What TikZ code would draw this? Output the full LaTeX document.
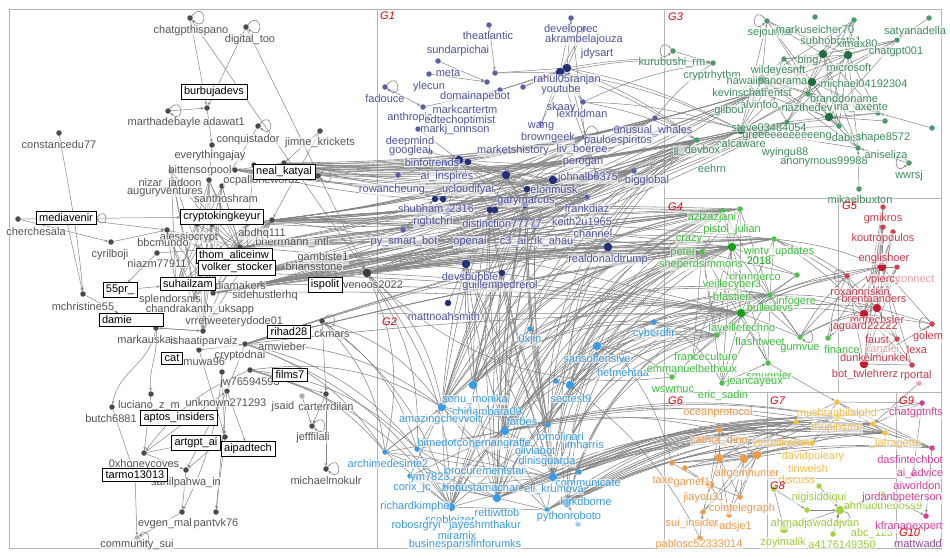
\documentclass[tikz,border=0pt]{standalone}
\usepackage{fontspec}
\setmainfont{Liberation Sans}
\usetikzlibrary{arrows.meta}
\definecolor{g0d}{HTML}{4A4A4A}\definecolor{g0t}{HTML}{555555}\definecolor{g0l}{HTML}{B0B0B0}
\definecolor{g1d}{HTML}{5A5FA8}\definecolor{g1b}{HTML}{22307A}\definecolor{g1t}{HTML}{4F549E}
\definecolor{g2d}{HTML}{3A9BE6}\definecolor{g2t}{HTML}{3A9BE0}\definecolor{g2l}{HTML}{9ACBF0}
\definecolor{g3d}{HTML}{4A9A6A}\definecolor{g3b}{HTML}{1F6E3E}\definecolor{g3t}{HTML}{3F8C5E}
\definecolor{g4d}{HTML}{4CC24C}\definecolor{g4b}{HTML}{15A015}\definecolor{g4t}{HTML}{3EBD3E}
\definecolor{g5d}{HTML}{D2404F}\definecolor{g5b}{HTML}{C41A2C}\definecolor{g5t}{HTML}{C93A4C}\definecolor{g5l}{HTML}{EBA0A8}
\definecolor{g6d}{HTML}{F09A48}\definecolor{g6t}{HTML}{EF9A4A}
\definecolor{g7d}{HTML}{F5C040}\definecolor{g7t}{HTML}{F2BF4A}
\definecolor{g8d}{HTML}{A4D33E}\definecolor{g8t}{HTML}{9CCB3C}
\definecolor{g9d}{HTML}{D83D96}\definecolor{g9t}{HTML}{D2409A}
\definecolor{g10t}{HTML}{8A4C98}
\definecolor{frm}{HTML}{B4B4B4}
\definecolor{edgec}{HTML}{858585}
\newcommand\lbf{\fontsize{11}{12}\selectfont}
\pgfdeclarelayer{bg}
\pgfsetlayers{bg,main}
\newcommand\DT[3]{\node[#1] (#2) at (#3) {};}
\newcommand\LB[4]{\node[#1] (#2) at (#3) {#4};}
\begin{document}
\begin{tikzpicture}[x=1pt,y=-1pt,
  dt/.style={circle,inner sep=0pt,minimum size=5.5pt},
  dtb/.style={circle,inner sep=0pt,minimum size=8.5pt},
  n0/.style={dt,fill=g0d}, n0b/.style={dtb,fill=g0d!80!black}, n0l/.style={dt,fill=g0l},
  n1/.style={dt,fill=g1d}, n1n/.style={dt,minimum size=6.5pt,fill=g1b}, n1b/.style={dtb,fill=g1b},
  n2/.style={dt,fill=g2d}, n2b/.style={dtb,fill=g2d}, n2l/.style={dt,fill=g2l},
  n3/.style={dt,fill=g3d}, n3b/.style={dtb,fill=g3b},
  n4/.style={dt,fill=g4d}, n4b/.style={dtb,fill=g4b},
  n5/.style={dt,fill=g5d}, n5b/.style={dtb,fill=g5b}, n5l/.style={dt,fill=g5l},
  n6/.style={dt,fill=g6d}, n6b/.style={dtb,fill=g6d},
  n7/.style={dt,fill=g7d}, n7b/.style={dtb,fill=g7d},
  n8/.style={dt,fill=g8d}, n8b/.style={dtb,fill=g8d},
  n9/.style={dt,fill=g9d},
  lbl/.style={font=\lbf,fill=white,fill opacity=0.55,text opacity=1,inner sep=0.4pt},
  t0/.style={lbl,text=g0t}, t1/.style={lbl,text=g1t}, t2/.style={lbl,text=g2t},
  t3/.style={lbl,text=g3t}, t4/.style={lbl,text=g4t}, t5/.style={lbl,text=g5t},
  t5l/.style={lbl,text=g5l}, t6/.style={lbl,text=g6t}, t7/.style={lbl,text=g7t},
  t8/.style={lbl,text=g8t}, t9/.style={lbl,text=g9t}, t10/.style={lbl,text=g10t},
  bx/.style={font=\lbf,draw=black,line width=0.6pt,fill=white,inner xsep=3pt,inner ysep=2.5pt,text=black},
  glab/.style={font=\fontsize{11}{12}\selectfont\itshape,text=red!90!black,anchor=west,inner sep=0pt},
  ed/.style={draw=edgec,line width=0.5pt},
  ea/.style={ed,-{Stealth[length=3.2pt,width=2.6pt]}},
  bund/.style={draw=edgec,line width=0.55pt},
  lp/.style={draw=edgec,line width=0.6pt,-{Stealth[length=3pt,width=2.6pt]}}
]
\useasboundingbox (0,0) rectangle (950,557);

% ---------------- G0 dots
\DT{n0}{a1}{190,18}\DT{n0}{a2}{246,27}\DT{n0}{a3}{168,111}\DT{n0}{a4}{207,108}
\DT{n0}{a5}{258,126}\DT{n0}{a6}{59,133}\DT{n0}{a7}{212,145}\DT{n0}{a8}{320,131}
\DT{n0}{a9}{254,165}\DT{n0}{a10}{284,163}\DT{n0}{a11}{18,219}\DT{n0}{a12}{111,242}
\DT{n0}{a13}{157,253}\DT{n0}{a14}{83,294}\DT{n0}{a15}{156,328}\DT{n0}{a16}{199,350}
\DT{n0b}{a17}{367,273}\DT{n0}{a18}{322,321}\DT{n0}{a19}{151,394}\DT{n0}{a20}{112,407}
\DT{n0}{a21}{225,437}\DT{n0}{a22}{144,453}\DT{n0}{a23}{186,470}\DT{n0}{a24}{182,512}
\DT{n0}{a25}{216,512}\DT{n0l}{a26}{137,538}\DT{n0}{a27}{326,394}\DT{n0}{a28}{312,426}
\DT{n0}{a29}{326,469}\DT{n0}{a30}{227,391}\DT{n0l}{a31}{302,396}\DT{n0}{a32}{318,176}
\DT{n0}{c1}{167,230}\DT{n0}{c2}{197,224}\DT{n0}{c3}{212,224}\DT{n0}{c4}{248,223}
\DT{n0}{c5}{272,220}\DT{n0}{c6}{240,247}\DT{n0}{c7}{247,273}\DT{n0}{c8}{261,284}
\DT{n0}{c9}{176,287}\DT{n0}{c10}{213,293}\DT{n0}{c11}{195,297}\DT{n0}{c12}{203,331}
\DT{n0}{c13}{245,344}\DT{n0}{c14}{250,370}\DT{n0}{c15}{222,372}\DT{n0}{c16}{171,171}
\DT{n0}{c17}{209,180}\DT{n0}{c18}{222,186}\DT{n0}{c19}{235,170}

% ---------------- G1 dots
\DT{n1}{b1}{489,25}\DT{n1}{b2}{438,61}\DT{n1}{b3}{571,18}\DT{n1}{b4}{584,29}
\DT{n1b}{b5}{567,68}\DT{n1}{b6}{429,74}\DT{n1}{b7}{385,87}\DT{n1}{b8}{495,73}
\DT{n1}{b9}{423,107}\DT{n1}{b10}{583,102}\DT{n1}{b11}{418,129}\DT{n1}{b12}{541,124}
\DT{n1}{b13}{430,152}\DT{n1}{b14}{655,118}\DT{n1}{b15}{585,137}\DT{n1}{b16}{398,175}
\DT{n1}{b17}{634,171}\DT{n1n}{b18}{525,205}\DT{n1n}{b19}{527,189}\DT{n1}{b20}{587,197}
\DT{n1}{b21}{403,230}\DT{n1b}{b22}{608,247}\DT{n1b}{b23}{466,264}\DT{n1n}{b24}{502,273}
\DT{n1n}{b25}{448,303}
\DT{n1}{gb1}{500,90}\DT{n1}{gb2}{523,87}\DT{n1b}{gb3}{560,72}\DT{n1}{gb4}{487,82}
\DT{n1b}{gb5}{506,175}\DT{n1b}{gb6}{553,180}\DT{n1}{gb7}{597,176}\DT{n1b}{gb8}{459,160}
\DT{n1n}{gb9}{468,162}\DT{n1}{gb10}{446,163}\DT{n1n}{gb11}{435,199}\DT{n1n}{gb12}{443,199}
\DT{n1}{gb13}{448,210}\DT{n1n}{gb14}{490,210}\DT{n1n}{gb15}{495,210}\DT{n1}{gb16}{535,227}
\DT{n1}{gb17}{617,128}

% ---------------- G2 dots
\DT{n2}{p1}{530,329}\DT{n2}{p2}{654,322}\DT{n2b}{p3}{597,346}\DT{n2}{p4}{623,360}
\DT{n2b}{p5}{570,385}\DT{n2b}{p6}{442,407}\DT{n2b}{p7}{505,431}\DT{n2}{p8}{385,452}
\DT{n2b}{p9}{451,507}\DT{n2b}{p10}{567,503}\DT{n2}{p11}{548,425}\DT{n2b}{p12}{553,477}
\DT{n2}{p13}{579,472}\DT{n2}{p14}{417,449}\DT{n2}{p15}{410,476}\DT{n2b}{p16}{497,498}
\DT{n2}{p17}{476,447}\DT{n2}{p18}{445,487}\DT{n2l}{p19}{578,524}\DT{n2}{p20}{556,381}
\DT{n2}{p21}{547,510}\DT{n2b}{p22}{473,385}

% ---------------- G3 dots
\DT{n3}{e1}{673,51}\DT{n3}{e2}{713,63}\DT{n3}{e3}{767,21}\DT{n3}{e4}{815,17}
\DT{n3}{e5}{854,20}\DT{n3}{e6}{929,18}\DT{n3}{e7}{897,40}\DT{n3b}{e8}{823,54}
\DT{n3b}{e9}{848,55}\DT{n3}{e10}{784,59}\DT{n3b}{e11}{762,79}\DT{n3b}{e12}{812,82}
\DT{n3}{e13}{756,92}\DT{n3}{e14}{808,94}\DT{n3b}{e15}{829,117}\DT{n3b}{e16}{741,130}
\DT{n3}{e17}{787,122}\DT{n3}{e18}{839,126}\DT{n3}{e19}{878,113}\DT{n3}{e20}{932,128}
\DT{n3}{e21}{909,163}\DT{n3}{e22}{858,148}\DT{n3}{e23}{885,121}\DT{n3}{e24}{859,189}
\DT{n3}{e25}{697,140}

% ---------------- G4 dots
\DT{n4b}{f1}{732,247}\DT{n4}{f2}{702,252}\DT{n4}{f3}{723,211}\DT{n4}{f4}{740,209}
\DT{n4}{f5}{774,239}\DT{n4}{f6}{797,275}\DT{n4}{f7}{770,295}\DT{n4b}{f8}{741,313}
\DT{n4}{f9}{800,337}\DT{n4}{f10}{828,338}\DT{n4}{f11}{768,363}\DT{n4}{f12}{717,335}
\DT{n4}{f13}{672,377}\DT{n4}{f14}{722,383}\DT{n4}{f15}{693,357}

% ---------------- G5 dots
\DT{n5}{g1}{883,207}\DT{n5}{g2}{893,232}\DT{n5}{g3}{883,227}\DT{n5b}{g4}{882,267}
\DT{n5}{g5}{897,267}\DT{n5}{g6}{847,276}\DT{n5b}{g7}{864,314}\DT{n5b}{g8}{877,308}
\DT{n5}{g9}{932,324}\DT{n5}{g10}{897,339}\DT{n5b}{g11}{864,364}\DT{n5}{g12}{912,365}
\DT{n5l}{g13}{919,383}

% ---------------- G6-G9 dots
\DT{n6b}{h1}{719,458}\DT{n6b}{h2}{744,459}\DT{n6b}{h3}{757,455}\DT{n6}{h4}{672,463}
\DT{n6}{h5}{685,468}\DT{n6b}{h6}{710,485}\DT{n6}{h7}{703,512}\DT{n6}{h8}{700,538}
\DT{n6}{h9}{719,430}\DT{n6}{h10}{740,497}\DT{n6}{h11}{729,515}
\DT{n7}{i1}{837,402}\DT{n7}{i2}{796,422}\DT{n7}{i3}{873,424}\DT{n7b}{i4}{837,417}
\DT{n7}{i5}{885,433}\DT{n7}{i6}{812,443}
\DT{n8}{j1}{819,486}\DT{n8}{j2}{774,489}\DT{n8}{j3}{807,510}\DT{n8b}{j4}{840,510}
\DT{n8b}{j5}{784,529}\DT{n8}{j6}{833,534}\DT{n8}{j7}{883,494}
\DT{n9}{k1}{922,403}\DT{n9}{k2}{932,448}\DT{n9}{k3}{913,474}\DT{n9}{k4}{926,516}

% ---------------- labels G0
\LB{t0}{La1}{191,31}{chatgpthispano}\LB{t0}{La2}{250,40}{digital\_too}
\LB{t0}{La3}{164,123}{marthadebayle}\LB{t0}{La4}{224,122}{adawat1}
\LB{t0}{La6}{59,145}{constancedu77}\LB{t0}{La7}{248,140}{conquistador}
\LB{t0}{La7b}{210,156}{everythingajay}\LB{t0}{La8}{320,143}{jimne\_krickets}
\LB{t0}{Lc16}{200,171}{bittensorpool}\LB{t0}{Lc17}{170,184}{nizar\_jadoon}
\LB{t0}{Lc18}{262,181}{ocpalloneword2}\LB{t0}{Lc19}{165,192}{auguryventures}
\LB{t0}{Lc20}{226,199}{santhoshram}\LB{t0}{La11}{36,232}{cherchesala}
\LB{t0}{Lc1}{189,238}{alessiocrypt}\LB{t0}{Lc2}{163,243}{bbcmundo}
\LB{t0}{La12}{110,255}{cyrilboji}\LB{t0}{La13}{157,264}{niazm77911}
\LB{t0}{Lc5}{323,258}{gambiste1}\LB{t0}{Lc4}{292,243}{bherrmann\_intl}
\LB{t0}{Lc3}{262,234}{abdhq111}\LB{t0}{Lbr}{314,267}{briansstone}
\LB{t0}{Lven}{373,285}{venoos2022}\LB{t0}{Lc8}{238,286}{lidiamakers}
\LB{t0}{Lc10}{265,296}{sidehustlerhq}\LB{t0}{Lc9}{170,300}{splendorsnis}
\LB{t0}{La14}{83,307}{mchristine55}\LB{t0}{Lc11}{200,310}{chandrakanth\_uksapp}
\LB{t0}{Lc12}{213,321}{vrretweeter}\LB{t0}{Lyd}{262,322}{ydode01}
\LB{t0}{La18}{332,334}{ckmars}\LB{t0}{La15}{147,340}{markauskas}
\LB{t0}{La16}{204,342}{ishaatiparvaiz}\LB{t0}{Lam}{282,347}{amwieber}
\LB{t0}{Lc13}{240,356}{cryptodnai}\LB{t0}{Ldim}{200,362}{dimuwa96}
\LB{t0}{La30}{250,383}{jw76594593}\LB{t0}{Lunk}{226,403}{unknown271293}
\LB{t0}{La31}{283,407}{jsaid}\LB{t0}{La27}{326,407}{carterrdilan}
\LB{t0}{La19}{149,406}{luciano\_z\_m}\LB{t0}{La20}{111,419}{butch6881}
\LB{t0}{La28}{313,438}{jefffilali}\LB{t0}{La22}{144,465}{0xhoneycoves}
\LB{t0}{La29}{326,481}{michaelmokulr}\LB{t0}{La23}{186,483}{sahilpahwa\_in}
\LB{t0}{La24}{165,524}{evgen\_mal}\LB{t0}{La25}{216,524}{pantvk76}
\LB{t0}{La26}{137,545}{community\_sui}

% ---------------- labels G1
\LB{t1}{Lb1}{488,36}{theatlantic}\LB{t1}{Lb2}{458,51}{sundarpichai}
\LB{t1}{Lb3}{571,30}{developrec}\LB{t1}{Lb4}{584,40}{akrambelajouza}
\LB{t1}{Lb4b}{597,54}{jdysart}\LB{t1}{Lb6}{448,73}{meta}
\LB{t1}{Lb6b}{429,87}{ylecun}\LB{t1}{Lb5}{567,80}{rahul05ranjan}
\LB{t1}{Lb7}{385,99}{fadouce}\LB{t1}{Lyt}{561,90}{youtube}
\LB{t1}{Ldom}{475,97}{domainapebot}\LB{t1}{Lb9}{465,110}{markcartertm}
\LB{t1}{Lsk}{561,108}{skaay}\LB{t1}{Lb10}{582,114}{lexfridman}
\LB{t1}{Lant}{410,118}{anthropic}\LB{t1}{Ledt}{460,121}{edtechoptimist}
\LB{t1}{Lb12}{541,127}{wang}\LB{t1}{Lb11}{455,130}{markj\_onnson}
\LB{t1}{Lbg}{548,138}{browngeek}\LB{t1}{Lb14}{653,131}{unusual\_whales}
\LB{t1}{Ldm}{410,142}{deepmind}\LB{t1}{Lb15}{618,141}{pauloespiritos}
\LB{t1}{Lmh}{513,151}{marketshistory}\LB{t1}{Lb13}{410,151}{googleai}
\LB{t1}{Llb}{582,150}{liv\_boeree}\LB{t1}{Lbi}{432,163}{binfotrends}
\LB{t1}{Lper}{583,163}{perogan}\LB{t1}{Lb16}{447,177}{ai\_inspires}
\LB{t1}{Ljo}{588,178}{johnalb6375}\LB{t1}{Lb17}{647,181}{bigglobal}
\LB{t1}{Lrow}{392,190}{rowancheung}\LB{t1}{Luc}{468,190}{ucloudifyai}
\LB{t1}{Lb19}{554,190}{elonmusk}\LB{t1}{Lb18}{526,202}{garymarcus}
\LB{t1}{Lb20}{587,209}{frankdiaz}\LB{t1}{Lsh}{436,210}{shubham\_2316}
\LB{t1}{Ldis}{502,224}{distinction77777}\LB{t1}{Lrc}{433,222}{rightchri}
\LB{t1}{Lke}{582,222}{keith2u1965}\LB{t1}{Lch}{593,234}{channel}
\LB{t1}{Lb21}{404,242}{py\_smart\_bot}\LB{t1}{Lop}{470,242}{openai}
\LB{t1}{Lc3ai}{513,242}{c3\_ai}\LB{t1}{Lik}{554,242}{ik\_ahau}
\LB{t1}{Lb22}{608,260}{realdonaldtrump}\LB{t1}{Lb23}{470,277}{devsbubble}
\LB{t1}{Lb24}{500,286}{guillempedrerol}\LB{t1}{Lb25}{444,317}{mattnoahsmith}

% ---------------- labels G2
\LB{t2}{Lp1}{530,340}{0xjin}\LB{t2}{Lp2}{654,334}{cyberdfir}
\LB{t2}{Lp3}{597,359}{sansoffensive}\LB{t2}{Lp4}{623,373}{hetmehtaa}
\LB{t2}{Lp5}{571,399}{sectest9}\LB{t2}{Lp6}{475,400}{sonu\_monika}
\LB{t2}{Lchi}{487,412}{chidambara09}\LB{t2}{Lama}{440,420}{amazingchevvolt}
\LB{t2}{Lp7}{522,422}{forbes}\LB{t2}{Ltom}{560,437}{tomolinari}
\LB{t2}{Lbim}{443,443}{bimedotco}\LB{t2}{Lher}{500,444}{hernangraffe}
\LB{t2}{Ljim}{583,446}{jimharris}\LB{t2}{Loli}{535,451}{oliviabot}
\LB{t2}{Ldin}{547,462}{dinisguarda}\LB{t2}{Lp8}{388,464}{archimedesinte2}
\LB{t2}{Lpro}{485,472}{procurementstar}\LB{t2}{Lym}{430,478}{ym7823}
\LB{t2}{Lcom}{588,483}{communicate}\LB{t2}{Lcor}{412,488}{corix\_jc}
\LB{t2}{Lzio}{480,488}{ziobustamachar}\LB{t2}{Leli}{554,490}{eli\_krumova}
\LB{t2}{Lp10}{586,502}{kirkdborne}\LB{t2}{Lp9}{415,507}{richardkimphe}
\LB{t2}{Lret}{497,513}{rettiwttob}\LB{t2}{Lpyr}{569,517}{pythonroboto}
\LB{t2}{Lsco}{450,520}{scobleizer}\LB{t2}{Lrob}{416,526}{robosrgryi}
\LB{t2}{Ljay}{485,526}{jayeshmthakur}\LB{t2}{Lmir}{457,536}{miramix}
\LB{t2}{Lbus}{465,545}{businesparisfinforumks}

% ---------------- labels G3
\LB{t3}{Le1}{672,63}{kurubushi\_rm}\LB{t3}{Le2}{712,76}{cryptrhythm}
\LB{t3}{Le3}{770,33}{sejournal}\LB{t3}{Le4}{815,30}{markuseicher70}
\LB{t3}{Le6}{915,32}{satyanadella}\LB{t3}{Le5}{831,41}{subhobrata1}
\LB{t3}{Lxi}{857,44}{ximax80}\LB{t3}{Le7}{896,52}{chatgpt001}
\LB{t3}{Le8}{808,61}{bing}\LB{t3}{Le9}{849,68}{microsoft}
\LB{t3}{Le10}{778,71}{wildeyesnft}\LB{t3}{Le11}{767,82}{hawaiipanorama}
\LB{t3}{Le12}{864,84}{michael04192304}\LB{t3}{Le13}{752,93}{kevinschatrentst}
\LB{t3}{Le14}{844,99}{branddoname}\LB{t3}{Lalv}{759,105}{alvinfoo}
\LB{t3}{Lgil}{729,111}{gilbou}\LB{t3}{Lriaz}{807,108}{riazthedev}
\LB{t3}{Liria}{861,108}{iria\_axente}\LB{t3}{Le16}{769,128}{steve03484054}
\LB{t3}{Lgre}{787,137}{greeeeeeeeeeeng}\LB{t3}{Lcal}{741,144}{calcaware}
\LB{t3}{Le25}{697,151}{jj\_devbox}\LB{t3}{Ldab}{848,138}{dabish}
\LB{t3}{Lsha}{883,138}{shape8572}\LB{t3}{Lwy}{785,153}{wyingu88}
\LB{t3}{Lano}{824,162}{anonymous99988}\LB{t3}{Lani}{886,155}{aniseliza}
\LB{t3}{Le21}{909,176}{wwrsj}\LB{t3}{Leeh}{712,169}{eehrn}
\LB{t3}{Le24}{860,200}{mikaelbuxton}

% ---------------- labels G4
\LB{t4}{Laz}{712,218}{azizazjani}\LB{t4}{Lpis}{732,230}{pistol\_julian}
\LB{t4}{Lcra}{689,240}{crazy}\LB{t4}{Lpet}{683,253}{peter}
\LB{t4}{Lwin}{779,252}{wintv\_updates}\LB{t4}{Lshe}{701,265}{sheperdsimmons}
\node[lbl,text=g4b] (L2018) at (759,261) {2018};
\LB{t4}{Lchn}{755,277}{channerco}\LB{t4}{Lvei}{732,285}{veillecyber3}
\LB{t4}{Lbfa}{731,297}{bfastier}\LB{t4}{Linf}{796,302}{infogere}
\LB{t4}{Lbul}{770,308}{bulledevs}\LB{t4}{Llav}{742,328}{laveilletechno}
\LB{t4}{Lfla}{760,342}{flashtweet}\LB{t4}{Lgum}{800,349}{gumvue}
\LB{t4}{Lfin}{842,350}{finance}\LB{t4}{Lfra}{706,357}{franceculture}
\LB{t4}{Lemm}{692,369}{emmanuelbethoux}\LB{t4}{Lsmu}{769,377}{smugnier}
\LB{t4}{Ljea}{755,382}{jeancayeux}\LB{t4}{Lf13}{673,390}{wswmuc}
\LB{t4}{Leri}{723,396}{eric\_sadin}

% ---------------- labels G5
\LB{t5}{Lg1}{883,219}{gmikros}\LB{t5}{Lkou}{883,239}{koutropoulos}
\LB{t5}{Lg4}{884,259}{englishoer}\LB{t5}{Lvp}{883,280}{vpiercy}
\LB{t5l}{Lcon}{915,279}{connect}\LB{t5}{Lrox}{860,292}{roxannnskin}
\LB{t5}{Lbre}{874,299}{brentaanders}\LB{t5}{Lmdr}{877,320}{mdrechsler}
\LB{t5}{Ljag}{864,327}{jaguard22222}\LB{t5}{Lgol}{928,337}{golem}
\LB{t5}{Lfau}{877,340}{faust}\LB{t5}{Llex}{917,350}{lexa}
\LB{t5l}{Lkan}{882,349}{kanzlei}\LB{t5}{Lg11}{874,358}{dunkelmunkel}
\LB{t5}{Lbot}{865,375}{bot\_twlehrerz}\LB{t5}{Lrpo}{916,376}{rportal}

% ---------------- labels G6-G10
\LB{t6}{Loce}{718,413}{oceanprotocol}\LB{t6}{Lcat}{719,441}{cathor\_dino}
\LB{t6}{Lalt}{747,474}{altgemhunter}\LB{t6}{Lgam}{692,483}{gamef1}
\LB{t6}{Ltax}{663,480}{taxe}\LB{t6}{Ljia}{704,498}{jiayou31}
\LB{t6}{Lcoi}{742,509}{cointelegraph}\LB{t6}{Lmad}{731,527}{madsje1}
\LB{t6}{Lsui}{692,524}{sui\_insider}\LB{t6}{Lpab}{699,545}{pablosc52333014}
\LB{t7}{Lmus}{837,414}{mushtaqbilalphd}\LB{t7}{Lthu}{837,428}{thupinsme}
\LB{t7}{Lvir}{781,443}{virtualkelvin}\LB{t7}{Llaf}{895,444}{\_lafragette}
\LB{t7}{Ldav}{813,457}{davidpoleary}\LB{t7}{Ltin}{808,469}{tinwelsh}
\LB{t7}{Ldis2}{797,480}{discuss}
\LB{t8}{Lnig}{819,498}{nigisiddiqui}\LB{t8}{Lahm}{883,506}{ahmadtheboss9}
\LB{t8}{Laja}{815,524}{ahmadjawadajvan}\LB{t8}{Lzoy}{783,543}{zoyimalik}
\LB{t8}{Labc}{872,534}{abc\_123}\LB{t8}{La41}{842,545}{a4176149350}
\LB{t9}{Lk1}{916,413}{chatgptnfts}\LB{t9}{Lk2}{910,460}{dasfintechbot}
\LB{t9}{Lk3}{920,474}{ai\_advice}\LB{t9}{Laiw}{917,486}{aiworldon}
\LB{t9}{Ljor}{902,498}{jordanbpeterson}\LB{t9}{Lkfr}{909,527}{kfranapexpert}
\LB{t10}{Lmat}{918,544}{mattwadd}

% ---------------- boxed labels G0
\node[bx] (Bburbuja) at (214,92) {burbujadevs};
\node[bx] (Bneal) at (284,172) {neal\_katyal};
\node[bx] (Bmedia) at (66,218) {mediavenir};
\node[bx] (Bcrypto) at (222,217) {cryptokingkeyur};
\node[bx] (Bthom) at (234,256) {thom\_aliceinw};
\node[bx] (Bvolker) at (237,268) {volker\_stocker};
\node[bx] (B55) at (120,290) {55pr\_};
\node[bx] (Bsuhail) at (188,284) {suhailzam};
\node[bx,text width=58pt] (Bdamie) at (131,320) {damie};
\node[bx] (Bispoli) at (325,285) {ispolit};
\node[bx] (Brihad) at (289,332) {rihad28};
\node[bx] (Bcat) at (172,358) {cat};
\node[bx] (Bfilms) at (290,375) {films7};
\node[bx] (Baptos) at (179,418) {aptos\_insiders};
\node[bx] (Bartgpt) at (196,443) {artgpt\_ai};
\node[bx] (Baipad) at (248,449) {aipadtech};
\node[bx] (Btarmo) at (135,475) {tarmo13013};

% ---------------- group labels
\node[glab] (G1) at (380,16) {G1};
\node[glab] (G2) at (382,322) {G2};
\node[glab] (G3) at (668,17) {G3};
\node[glab] (G4) at (668,207) {G4};
\node[glab] (G5) at (842,206) {G5};
\node[glab] (G6) at (668,401) {G6};
\node[glab] (G7) at (770,401) {G7};
\node[glab] (G8) at (770,486) {G8};
\node[glab] (G9) at (899,401) {G9};
\node[glab] (G10) at (899,533) {G10};

\begin{pgfonlayer}{bg}
\fill[white] (0,0) rectangle (950,557);
\draw[frm,line width=0.8pt] (9,9) rectangle (941,548);
\draw[frm,line width=0.8pt] (377,9) -- (377,548) (664,9) -- (664,548)
  (377,313) -- (664,313) (664,198) -- (941,198) (838,198) -- (838,392)
  (664,392) -- (941,392) (767,392) -- (767,548) (767,478) -- (896,478)
  (896,392) -- (896,548) (896,527) -- (941,527);

% ---- bundles
\foreach \s in {a17,c4,c5,c6,c7,c8,a10,c19,a9}
  \foreach \t in {b17,b14,e25,e16,b15,e17,b20,gb7,e13}
    \draw[bund] (\s) to[bend right=8] (\t);
\foreach \s in {a17,c7,c8,c13,c6,c10,c5}
  \foreach \t in {b22,f1,f2,f3,f4,f5,f8}
    \draw[bund] (\s) to[bend left=3] (\t);
\foreach \s in {p6,p7,p11,p12,p16,p9,p10,p5,p22}
  \foreach \t in {f1,f2,f7,f8,e25,f12,f3}
    \draw[bund] (\s) to[bend left=28] (\t);
\foreach \s in {p10,p12,p13,p21,p7,p16}
  \foreach \t in {i2,i4,i6,h9,i5,i3}
    \draw[bund] (\s) to[bend left=12] (\t);
\foreach \s in {b23,b24,b18,b19,gb16,gb14}
  \foreach \t in {p6,p7,p11,p16,p12,p22}
    \draw[bund] (\s) to[bend right=5] (\t);
\foreach \s in {a17,c13,c14,a18}
  \foreach \t in {p6,p8,p14,p9}
    \draw[bund] (\s) to[bend left=18] (\t);
\foreach \s in {f7,f8,f9,f10,f5}
  \foreach \t in {g7,g8,g6,g4}
    \draw[bund] (\s) to[bend left=8] (\t);
\foreach \s in {h9,h1,h2}
  \foreach \t in {i2,i4,i6,k2,i5}
    \draw[bund] (\s) to[bend left=6] (\t);
\foreach \s in {b5,gb3,b10,b14}
  \foreach \t in {e25,e2,e16}
    \draw[ed] (\s) to[bend left=8] (\t);

% ---- group internal meshes
\foreach \s in {c1,c2,c3,c4,c5,c16,c17,c18}
  \foreach \t in {c6,c7,c9,c10,c11,c12}
    \draw[ed] (\s) -- (\t);
\foreach \s in {b5,gb3}
  \foreach \t in {b3,b4,b10,b12,b8,gb1,gb2,gb7}
    \draw[ed] (\s) -- (\t);
\foreach \s in {gb5,gb6,gb8}
  \foreach \t in {gb9,gb10,gb11,gb12,gb13,gb14,b18,b19,b20,b17,gb16}
    \draw[ed] (\s) -- (\t);
\foreach \s in {p6,p7,p12,p16,p9}
  \foreach \t in {p8,p14,p15,p17,p18,p11,p13,p21}
    \draw[ed] (\s) -- (\t);
\foreach \s in {e8,e9,e12,e11,e15,e16}
  \foreach \t in {e3,e5,e7,e10,e13,e14,e17,e18,e19,e22}
    \draw[ed] (\s) -- (\t);
\foreach \s in {f1,f2,f7,f8}
  \foreach \t in {f3,f4,f5,f6,f9,f11,f12,f15,f14}
    \draw[ed] (\s) -- (\t);
\foreach \s in {g4,g7,g8,g11}
  \foreach \t in {g1,g3,g2,g5,g6,g9,g10,g12}
    \draw[ed] (\s) -- (\t);
\foreach \s in {h1,h2,h3,h6}
  \foreach \t in {h4,h5,h7,h10,h11,h9}
    \draw[ed] (\s) -- (\t);
\foreach \s in {i4,i1,i3}
  \foreach \t in {i2,i5,i6,k2,k1}
    \draw[ed] (\s) -- (\t);

% ---- single edges
\draw[ea] (a1) -- (a4); \draw[ea] (a1) -- (a17); \draw[ea] (a2) -- (a4);
\draw[ea] (a2) -- (a17); \draw[ea] (a3) -- (a4); \draw[ea] (a4) -- (a7);
\draw[ea] (a7) -- (c17); \draw[ea] (a5) -- (c18); \draw[ea] (a8) -- (a10);
\draw[ea] (a8) -- (c5); \draw[ea] (a9) -- (c4); \draw[ea] (a10) -- (c19);
\draw[ea] (a6) to[out=-80,in=95] (a14);
\draw[ea] (a11) -- (Bcrypto); \draw[ea] (a11) -- (a12);
\draw[ea] (Bmedia) -- (a14); \draw[ea] (Bmedia) -- (c1); \draw[ea] (a12) -- (c1);
\draw[ea] (a13) -- (B55); \draw[ea] (B55) -- (Bsuhail); \draw[ea] (a13) -- (c6);
\draw[ea] (a14) -- (Bdamie); \draw[ea] (a15) -- (c12);
\draw[ea] (a15) to[out=-100,in=80] (a20); \draw[ea] (a15) to[out=-85,in=95] (a19);
\draw[ea] (a16) -- (c13); \draw[ea] (a16) -- (a21); \draw[ea] (a19) -- (a22);
\draw[ea] (a20) -- (Btarmo); \draw[ea] (a22) -- (a21); \draw[ea] (a22) -- (a23);
\draw[ea] (a22) -- (a30); \draw[ea] (a21) -- (a23); \draw[ea] (a21) -- (a25);
\draw[ea] (a23) -- (a24); \draw[ea] (a24) -- (a26); \draw[ea] (Btarmo) -- (a26);
\draw[ea] (a30) -- (a25); \draw[ea] (a30) -- (a23); \draw[ea] (a27) -- (a29);
\draw[ea] (a27) -- (a28); \draw[ea] (a31) -- (a28); \draw[ea] (a18) -- (a27);
\draw[ea] (c14) -- (a27); \draw[ea] (c15) -- (a21); \draw[ea] (c13) -- (a30);
\draw[ea] (c14) to[bend right=15] (a22); \draw[ea] (c15) to[bend left=10] (a24);
\draw[ea] (a30) -- (Baipad); \draw[ea] (c12) -- (a15);
\draw[ea] (b1) -- (b8); \draw[ea] (b2) -- (gb4); \draw[ea] (b6) -- (gb4);
\draw[ea] (b7) -- (b9); \draw[ea] (b9) -- (gb1); \draw[ea] (b11) -- (gb8);
\draw[ea] (b13) -- (gb8); \draw[ea] (b14) -- (b15); \draw[ea] (b16) -- (gb10);
\draw[ea] (b21) -- (gb11); \draw[ea] (b25) -- (b23); \draw[ea] (b3) -- (b15);
\draw[ea] (p1) -- (p22); \draw[ea] (p2) -- (p3); \draw[ea] (p3) -- (p5);
\draw[ea] (p4) -- (p3); \draw[ea] (p20) -- (p5); \draw[ea] (p8) -- (p6);
\draw[ea] (p19) -- (p10);
\draw[ea] (e1) -- (e2); \draw[ea] (e6) -- (e7); \draw[ea] (e21) -- (e22);
\draw[ea] (e24) -- (e22); \draw[ea] (e20) -- (e19); \draw[ea] (e23) -- (e15);
\draw[ea] (f13) -- (f15); \draw[ea] (f14) -- (f11);
\draw[ea] (h8) -- (h7); \draw[ea] (j1) -- (j4); \draw[ea] (j2) -- (j3);
\draw[ea] (j3) -- (j4); \draw[ea] (j4) -- (j5); \draw[ea] (j6) -- (j4);
\draw[ea] (j7) -- (j4); \draw[ea] (j2) -- (j5); \draw[ea] (k1) -- (k3);
\draw[ea] (k2) -- (k4); \draw[ea] (i5) -- (k2); \draw[ea] (j7) -- (k4);
\draw[ea] (h3) -- (i6); \draw[ea] (f11) -- (i1); \draw[ea] (g13) -- (i3);
\draw[ed] (p5) to[bend left=12] (h8); \draw[ed] (p3) to[bend left=15] (f13);
\draw[ed] (p2) to[bend left=20] (f14); \draw[ed] (a17) to[bend right=25] (f13);
\draw[ed] (p4) to[bend left=10] (h4);

% ---- self loops
\draw[lp] (a1) to[out=50,in=-40,min distance=22pt] (a1);
\draw[lp] (a2) to[out=50,in=-40,min distance=22pt] (a2);
\draw[lp] (a3) to[out=50,in=-40,min distance=20pt] (a3);
\draw[lp] (a5) to[out=50,in=-40,min distance=20pt] (a5);
\draw[lp] (a32) to[out=50,in=-40,min distance=20pt] (a32);
\draw[lp] (Bmedia.east) to[out=50,in=-50,min distance=20pt] (Bmedia.east);
\draw[lp] (a18) to[out=50,in=-40,min distance=20pt] (a18);
\draw[lp] (a28) to[out=50,in=-40,min distance=20pt] (a28);
\draw[lp] (a29) to[out=50,in=-40,min distance=20pt] (a29);
\draw[lp] (a26) to[out=50,in=-40,min distance=18pt] (a26);
\draw[lp] (b7) to[out=50,in=-40,min distance=20pt] (b7);
\draw[lp] (b15) to[out=80,in=-10,min distance=22pt] (b15);
\draw[lp] (e1) to[out=130,in=220,min distance=20pt] (e1);
\draw[lp] (e3) to[out=130,in=220,min distance=20pt] (e3);
\draw[lp] (e13) to[out=130,in=220,min distance=20pt] (e13);
\draw[lp] (e21) to[out=130,in=220,min distance=20pt] (e21);
\draw[lp] (f9) to[out=50,in=-40,min distance=20pt] (f9);
\draw[lp] (g6) to[out=130,in=220,min distance=20pt] (g6);
\draw[lp] (g9) to[out=130,in=220,min distance=20pt] (g9);
\draw[lp] (j4) to[out=-20,in=-110,min distance=18pt] (j4);
\end{pgfonlayer}
\end{tikzpicture}
\end{document}
